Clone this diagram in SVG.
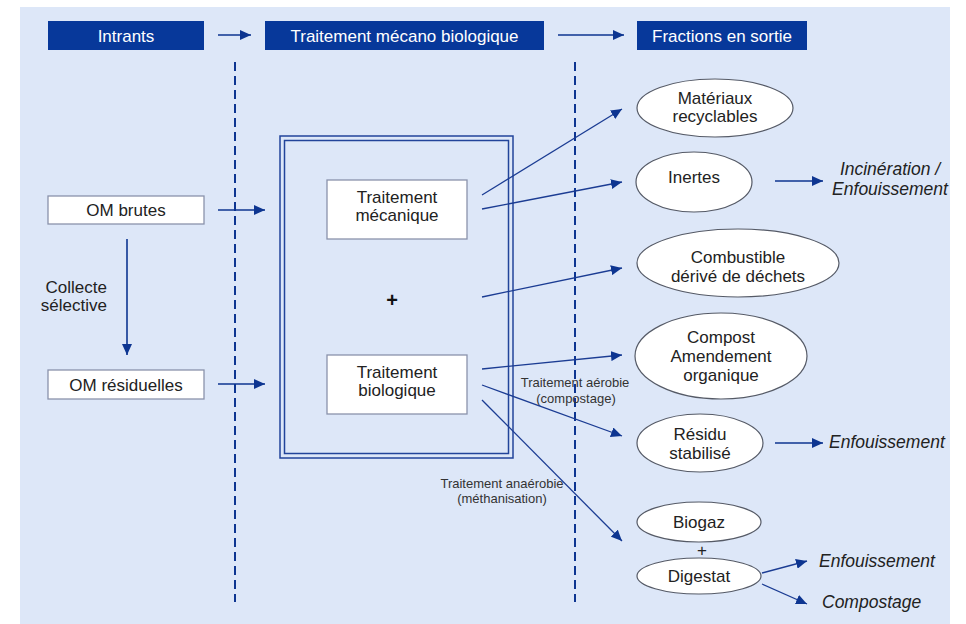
<svg xmlns="http://www.w3.org/2000/svg" width="966" height="624" viewBox="0 0 966 624">
<defs>
<marker id="ah" markerUnits="userSpaceOnUse" markerWidth="12" markerHeight="10" refX="11" refY="5" orient="auto">
<path d="M0,0 L11,5 L0,10 z" fill="#0d3591"/>
</marker>
<style>
.t{font-family:"Liberation Sans",Arial,sans-serif;font-size:17px;fill:#222;text-anchor:middle}
.h{font-family:"Liberation Sans",Arial,sans-serif;font-size:17px;fill:#fff;text-anchor:middle}
.s{font-family:"Liberation Sans",Arial,sans-serif;font-size:13px;fill:#333;text-anchor:middle}
.i{font-family:"Liberation Sans",Arial,sans-serif;font-size:17.5px;fill:#222;font-style:italic}
.hb{fill:#07389a}
.box{fill:#fff;stroke:#8a92ab;stroke-width:1.3}
.el{fill:#fff;stroke:#555a66;stroke-width:1.2}
.ln{stroke:#1b3c93;stroke-width:1.3;fill:none;marker-end:url(#ah)}
.ln2{stroke:#0d3591;stroke-width:1.6;fill:none;marker-end:url(#ah)}
.dash{stroke:#0d3591;stroke-width:2;stroke-dasharray:9 5;fill:none}
</style>
</defs>
<rect x="0" y="0" width="966" height="624" fill="#fff"/>
<rect x="20" y="7" width="930" height="617" fill="#dde7f8"/>

<g id="headers">
<g id="h-intrants"><rect class="hb" x="48" y="21" width="156" height="29"/><text class="h" x="126" y="41.5">Intrants</text></g>
<g id="h-tmb"><rect class="hb" x="265" y="21" width="279" height="29"/><text class="h" x="404.5" y="41.5">Traitement mécano biologique</text></g>
<g id="h-fractions"><rect class="hb" x="637" y="21" width="170" height="29"/><text class="h" x="722" y="41.5">Fractions en sortie</text></g>
</g>

<g id="separators">
<line class="dash" x1="235" y1="62" x2="235" y2="602"/>
<line class="dash" x1="575" y1="62" x2="575" y2="602"/>
</g>

<g id="om-brutes"><rect class="box" x="48" y="196" width="156" height="28"/><text class="t" x="126" y="216">OM brutes</text></g>
<g id="om-residuelles"><rect class="box" x="48" y="370" width="156" height="29"/><text class="t" x="126" y="391">OM résiduelles</text></g>
<g id="collecte"><text class="t" x="107" y="293" style="text-anchor:end">Collecte</text><text class="t" x="107" y="311" style="text-anchor:end">sélective</text></g>

<g id="tmb-box">
<rect x="280" y="136" width="233" height="322" fill="none" stroke="#22449a" stroke-width="1.5"/>
<rect x="284.5" y="140.5" width="224" height="313" fill="none" stroke="#22449a" stroke-width="1.5"/>
<text x="392" y="307" style="font-family:'Liberation Sans',Arial,sans-serif;font-size:20px;font-weight:bold;fill:#111;text-anchor:middle">+</text>
</g>
<g id="t-mecanique"><rect class="box" x="327" y="180" width="140" height="59"/><text class="t" x="397" y="203">Traitement</text><text class="t" x="397" y="221">mécanique</text></g>
<g id="t-biologique"><rect class="box" x="327" y="355" width="140" height="59"/><text class="t" x="397" y="378">Traitement</text><text class="t" x="397" y="396">biologique</text></g>

<g id="materiaux"><ellipse class="el" cx="715" cy="108" rx="78" ry="29"/><text class="t" x="715" y="104">Matériaux</text><text class="t" x="715" y="122">recyclables</text></g>
<g id="inertes"><ellipse class="el" cx="694" cy="182" rx="58" ry="30"/><text class="t" x="694" y="183">Inertes</text></g>
<g id="combustible"><ellipse class="el" cx="738" cy="263" rx="101" ry="34"/><text class="t" x="738" y="263">Combustible</text><text class="t" x="738" y="282">dérivé de déchets</text></g>
<g id="compost"><ellipse class="el" cx="721" cy="356" rx="86" ry="43"/><text class="t" x="721" y="343">Compost</text><text class="t" x="721" y="362">Amendement</text><text class="t" x="721" y="381">organique</text></g>
<g id="residu"><ellipse class="el" cx="700" cy="443" rx="63" ry="29"/><text class="t" x="700" y="440">Résidu</text><text class="t" x="700" y="459">stabilisé</text></g>
<g id="biogaz"><ellipse class="el" cx="699" cy="522" rx="62" ry="20"/><text class="t" x="699" y="528">Biogaz</text></g>
<text class="t" x="702" y="556">+</text>
<g id="digestat"><ellipse class="el" cx="699" cy="576" rx="62" ry="18"/><text class="t" x="699" y="582">Digestat</text></g>

<g id="outputs">
<text class="i" x="890" y="175" style="text-anchor:middle">Incinération /</text>
<text class="i" x="890" y="195" style="text-anchor:middle">Enfouissement</text>
<text class="i" x="829" y="448">Enfouissement</text>
<text class="i" x="819" y="567">Enfouissement</text>
<text class="i" x="822" y="608">Compostage</text>
</g>

<g id="labels">
<text class="s" x="575" y="387">Traitement aérobie</text>
<text class="s" x="576" y="403">(compostage)</text>
<text class="s" x="502" y="488">Traitement anaérobie</text>
<text class="s" x="502" y="503">(méthanisation)</text>
</g>

<g id="connectors">
<line class="ln2" x1="218" y1="35" x2="251" y2="35"/>
<line class="ln2" x1="558" y1="35" x2="624" y2="35"/>
<line class="ln2" x1="218" y1="210" x2="265" y2="210"/>
<line class="ln2" x1="218" y1="384" x2="265" y2="384"/>
<line class="ln2" x1="127" y1="239" x2="127" y2="355"/>
<line class="ln" x1="482" y1="195" x2="622" y2="109"/>
<line class="ln" x1="482" y1="209" x2="622" y2="182"/>
<line class="ln" x1="482" y1="297" x2="622" y2="268"/>
<line class="ln" x1="482" y1="369" x2="622" y2="355"/>
<line class="ln" x1="482" y1="385" x2="622" y2="436"/>
<line class="ln" x1="482" y1="400" x2="622" y2="541"/>
<line class="ln2" x1="775" y1="181" x2="823" y2="181"/>
<line class="ln2" x1="775" y1="443" x2="823" y2="443"/>
<line class="ln" x1="762" y1="573" x2="807" y2="561"/>
<line class="ln" x1="762" y1="584" x2="807" y2="604"/>
</g>
</svg>
